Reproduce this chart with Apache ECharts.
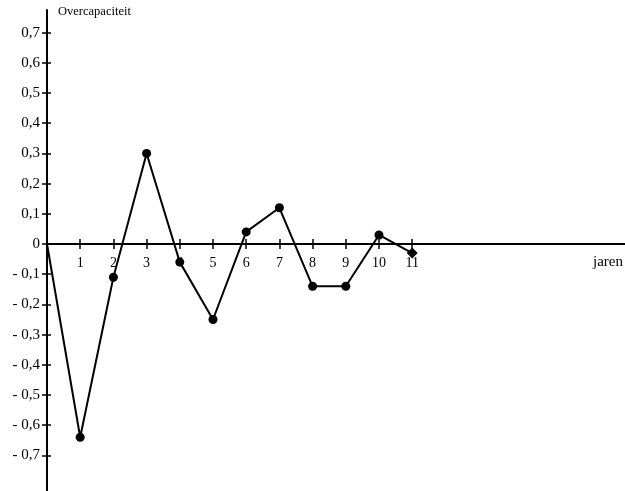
<!DOCTYPE html>
<html>
<head>
<meta charset="utf-8">
<script src="https://cdn.jsdelivr.net/npm/echarts@6/dist/echarts.min.js"></script>
<style>
html,body{margin:0;padding:0;background:#fff;}
#chart{width:625px;height:491px;}
</style>
</head>
<body>
<div id="chart"></div>
<script>
// Data
var years = [0, 1, 2, 3, 4, 5, 6, 7, 8, 9, 10, 11];
var overcapaciteit = [0, -0.64, -0.11, 0.3, -0.06, -0.25, 0.04, 0.12, -0.14, -0.14, 0.03, -0.03];
var xTicks = [1, 2, 3, 4, 5, 6, 7, 8, 9, 10, 11];
var yTicks = [-0.7, -0.6, -0.5, -0.4, -0.3, -0.2, -0.1, 0, 0.1, 0.2, 0.3, 0.4, 0.5, 0.6, 0.7];
var yTitle = 'Overcapaciteit';
var xTitle = 'jaren';

var FONT = '"Liberation Serif", "DejaVu Serif", serif';

var seriesData = years.map(function (x, i) {
  var item = { value: [x, overcapaciteit[i]] };
  if (i === 0) item.symbol = 'none';
  else if (i === years.length - 1) { item.symbol = 'diamond'; item.symbolSize = 11; }
  return item;
});

function yFmt(v) {
  var r = Math.round(v * 10) / 10;
  if (r === 0) return '0';
  var s = Math.abs(r).toFixed(1).replace('.', ',');
  return (r < 0 ? '- ' : '') + s;
}

var xMin = 0, xMax = 17.41;
var yMin = -0.818, yMax = 0.775;
var gridTop = 10, gridBottom = 0, H = 491;
var gridH = H - gridTop - gridBottom;
// move the x axis from the grid bottom up to the value 0
var zeroOffset = -gridH * (0 - yMin) / (yMax - yMin);

var chart = echarts.init(document.getElementById('chart'), null, { renderer: 'canvas' });
chart.setOption({
  animation: false,
  backgroundColor: '#fff',
  grid: { left: 47, right: 0, top: gridTop, bottom: gridBottom, containLabel: false, outerBoundsMode: 'none' },
  xAxis: [
    {
      type: 'value', min: xMin, max: xMax, position: 'bottom', offset: zeroOffset,
      axisLine: { onZero: false, lineStyle: { color: '#000', width: 2 } },
      axisTick: { show: true, inside: false, length: 5, customValues: xTicks, lineStyle: { color: '#000', width: 1.5 } },
      axisLabel: { show: true, customValues: xTicks, margin: 12, color: '#000', fontFamily: FONT, fontSize: 14 },
      splitLine: { show: false }
    },
    {
      type: 'value', min: xMin, max: xMax, position: 'bottom', offset: zeroOffset,
      axisLine: { onZero: false, show: false },
      axisTick: { show: true, inside: true, length: 5, customValues: xTicks, lineStyle: { color: '#000', width: 1.5 } },
      axisLabel: { show: false },
      splitLine: { show: false }
    }
  ],
  yAxis: [
    {
      type: 'value', min: yMin, max: yMax, position: 'left', offset: 0,
      axisLine: { onZero: false, show: true, lineStyle: { color: '#000', width: 2 } },
      axisTick: { show: false },
      axisLabel: { show: true, customValues: yTicks, margin: 7, color: '#000', fontFamily: FONT, fontSize: 15, formatter: yFmt },
      splitLine: { show: false }
    },
    {
      type: 'value', min: yMin, max: yMax, position: 'left', offset: -4,
      axisLine: { onZero: false, show: false },
      axisTick: { show: true, inside: false, length: 9, customValues: yTicks, lineStyle: { color: '#000', width: 1.5 } },
      axisLabel: { show: false },
      splitLine: { show: false }
    }
  ],
  graphic: [
    { type: 'text', left: 58, top: 5, style: { text: yTitle, fontFamily: FONT, fontSize: 12.5, fill: '#000' } },
    { type: 'text', left: 593, top: 255, style: { text: xTitle, fontFamily: FONT, fontSize: 15, fill: '#000' } }
  ],
  series: [
    {
      type: 'line',
      xAxisIndex: 0, yAxisIndex: 0,
      data: seriesData,
      symbol: 'circle',
      symbolSize: 9,
      showSymbol: true,
      lineStyle: { color: '#000', width: 2 },
      itemStyle: { color: '#000' },
      z: 5
    }
  ]
});
</script>
</body>
</html>
